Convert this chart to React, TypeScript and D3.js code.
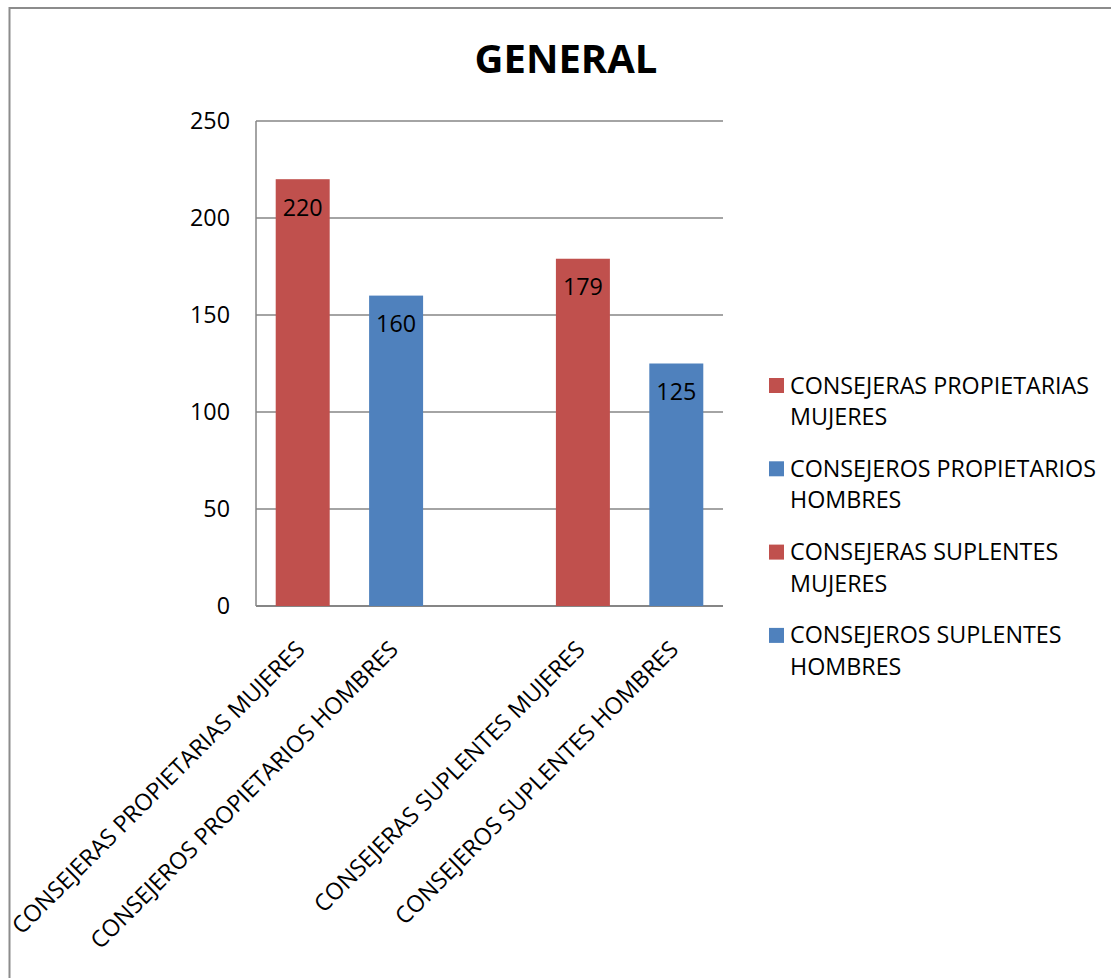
import React from "react";
import * as d3 from "d3";

const title = "GENERAL";
const categories = [
  "CONSEJERAS PROPIETARIAS MUJERES",
  "CONSEJEROS PROPIETARIOS HOMBRES",
  "",
  "CONSEJERAS SUPLENTES MUJERES",
  "CONSEJEROS SUPLENTES HOMBRES",
];
const values: (number | null)[] = [220, 160, null, 179, 125];
const barColors = ["#C0504D", "#4F81BD", "#FFFFFF", "#C0504D", "#4F81BD"];
const yTicks = [0, 50, 100, 150, 200, 250];
const legendItems = [
  ["CONSEJERAS PROPIETARIAS", "MUJERES"],
  ["CONSEJEROS PROPIETARIOS", "HOMBRES"],
  ["CONSEJERAS SUPLENTES", "MUJERES"],
  ["CONSEJEROS SUPLENTES", "HOMBRES"],
];
const legendColors = ["#C0504D", "#4F81BD", "#C0504D", "#4F81BD"];

const W = 1111;
const H = 978;
const FONT = "'Open Sans', 'Noto Sans', sans-serif";
const FS = 23.3;
const plot = { left: 256, right: 723, top: 121, bottom: 606 };

export default function App() {
  const x = d3
    .scaleBand<string>()
    .domain(categories.map((_, i) => String(i)))
    .range([plot.left, plot.right])
    .paddingInner(0.422)
    .paddingOuter(0.211);
  const y = d3.scaleLinear().domain([0, 250]).range([plot.bottom, plot.top]);
  const grid = "#868686";

  return (
    <svg
      width={W}
      height={H}
      style={{ position: "absolute", left: 0, top: 0, display: "block", background: "#fff" }}
      fontFamily={FONT}
    >
      <rect x={0} y={0} width={W} height={H} fill="#fff" />
      <rect x={9.5} y={8} width={1300} height={1200} fill="none" stroke="#8c8c8c" strokeWidth={2} />
      <text x={566} y={73} textAnchor="middle" fontSize={40} fontWeight="bold" fill="#000">
        {title}
      </text>

      {yTicks.map((t) => (
        <g key={t}>
          <line x1={plot.left} x2={plot.right} y1={y(t)} y2={y(t)} stroke={grid} strokeWidth={1.5} />
          <text x={230} y={y(t) + 8} textAnchor="end" fontSize={FS} fill="#000">
            {t}
          </text>
        </g>
      ))}
      <line x1={plot.left} x2={plot.left} y1={plot.top} y2={plot.bottom} stroke={grid} strokeWidth={1.5} />
      <line x1={plot.left} x2={plot.right} y1={plot.bottom} y2={plot.bottom} stroke={grid} strokeWidth={2} />

      {values.map((v, i) =>
        v == null ? null : (
          <g key={i}>
            <rect
              x={x(String(i))!}
              y={y(v)}
              width={x.bandwidth()}
              height={y(0) - y(v)}
              fill={barColors[i]}
            />
            <text
              x={x(String(i))! + x.bandwidth() / 2}
              y={y(v) + 36.5}
              textAnchor="middle"
              fontSize={FS}
              fill="#000"
            >
              {v}
            </text>
          </g>
        )
      )}

      {categories.map((c, i) => {
        const cx = x(String(i))! + x.bandwidth() / 2 + 3.5;
        const cy = plot.bottom + 45;
        return (
          <text
            key={i}
            transform={`translate(${cx},${cy}) rotate(-45)`}
            textAnchor="end"
            fontSize={FS}
            fill="#000"
          >
            {c}
          </text>
        );
      })}

      {legendItems.map((lines, i) => {
        const by = 393.5 + i * 83.3;
        return (
          <g key={i}>
            <rect x={769} y={by - 15.5} width={15} height={15} fill={legendColors[i]} />
            {lines.map((l, j) => (
              <text key={j} x={790} y={by + j * 31.5} fontSize={FS} fill="#000">
                {l}
              </text>
            ))}
          </g>
        );
      })}
    </svg>
  );
}
